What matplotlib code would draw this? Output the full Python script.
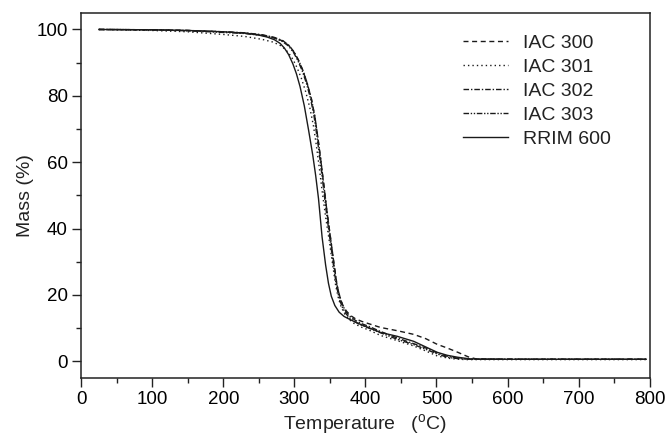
import matplotlib
matplotlib.use("Agg")
import matplotlib.pyplot as plt
from matplotlib.ticker import MultipleLocator

plt.rcParams["font.family"] = ["Liberation Sans", "DejaVu Sans"]
plt.rcParams["mathtext.fontset"] = "custom"
plt.rcParams["mathtext.rm"] = "Liberation Sans"

# Curvas TGA (temperatura en C, masa en %)
t_300 = [25, 100, 150, 200, 230, 255, 272, 284, 293, 300, 306, 312, 318, 324, 329, 333, 337, 341,
         346, 351, 356, 360, 364, 368, 373, 379, 386, 395, 405, 421, 445, 468, 485, 501, 515, 530,
         545, 556, 600, 700, 795]
m_300 = [100, 99.9, 99.7, 99.3, 98.9, 98.3, 97.5, 96.5, 95.0, 93.0, 90.6, 87.6, 83.8, 79.0, 73.5,
         67.5, 61, 54, 45, 37, 29, 23.0, 19.5, 17.0, 15.2, 13.8, 12.8, 12.0, 11.3, 10.2, 9.2, 8.1,
         6.8, 5.1, 4.0, 2.7, 1.3, 0.7, 0.6, 0.6, 0.6]

t_301 = [25, 100, 150, 200, 230, 255, 270, 282, 291, 298, 304, 310, 316, 322, 327, 331, 335, 339,
         344, 349, 354, 358, 362, 366, 371, 377, 384, 393, 405, 421, 445, 468, 485, 501, 520, 540,
         600, 700, 795]
m_301 = [100, 99.7, 99.3, 98.5, 97.9, 97.0, 96.2, 95.0, 93.2, 91.0, 88.4, 85.2, 81.2, 76.2, 70.8,
         65.0, 58.5, 51.5, 43.5, 36.5, 29, 23.0, 19.0, 16.3, 14.2, 12.6, 11.4, 10.4, 9.4, 7.8,
         6.2, 4.6, 3.1, 1.6, 0.8, 0.5, 0.5, 0.5, 0.5]

t_302 = [25, 100, 150, 200, 230, 255, 272, 284, 293, 300, 306, 312, 318, 324, 329, 333, 337, 341,
         346, 351, 356, 360, 364, 368, 373, 379, 386, 395, 405, 421, 445, 468, 485, 501, 515, 530,
         548, 600, 700, 795]
m_302 = [100, 99.9, 99.7, 99.3, 99.0, 98.4, 97.6, 96.6, 95.1, 93.1, 90.7, 87.7, 83.9, 79.1, 73.6,
         67.6, 61, 54, 45, 37, 29, 23.0, 19.3, 16.8, 14.8, 13.4, 12.3, 11.3, 10.5, 9.0, 7.0, 5.3,
         4.0, 2.5, 1.5, 0.9, 0.6, 0.6, 0.6, 0.6]

t_303 = [25, 100, 150, 200, 230, 255, 272, 283, 292, 299, 305, 311, 317, 323, 328, 332, 336, 340,
         345, 350, 355, 359, 363, 367, 372, 378, 385, 394, 405, 421, 445, 468, 485, 501, 515, 530,
         548, 600, 700, 795]
m_303 = [100, 99.9, 99.6, 99.1, 98.8, 98.2, 97.4, 96.4, 95.0, 93.0, 90.6, 87.6, 83.8, 79.0, 73.5,
         67.5, 61, 54, 45, 37, 29, 23.0, 19.0, 16.5, 14.5, 13.0, 11.9, 10.9, 10.0, 8.6, 6.6, 5.0,
         3.6, 2.2, 1.2, 0.8, 0.6, 0.6, 0.6, 0.6]

t_rrim = [25, 100, 150, 200, 230, 250, 262, 272, 280, 286, 292, 298, 303, 308, 314, 320, 326,
          330, 334, 339, 344, 348, 352, 357, 363, 370, 379, 390, 400, 421, 445, 468, 485, 501, 515,
          530, 548, 600, 700, 795]
m_rrim = [100, 99.9, 99.7, 99.3, 98.9, 98.3, 97.7, 96.9, 95.8, 94.4, 92.4, 89.6, 86.6, 82.8, 77.0,
          69.7, 62, 56, 49, 37.5, 29, 23.5, 19.6, 16.8, 14.8, 13.5, 12.5, 11.4, 10.5, 8.7, 7.5,
          6.0, 4.3, 2.7, 1.8, 1.2, 0.7, 0.6, 0.6, 0.6]

fig = plt.figure(figsize=(6.65, 4.44), dpi=100)
ax = fig.add_axes([0.122, 0.149, 0.855, 0.822])

c = "#1a1a1a"
ax.plot(t_300, m_300, color=c, lw=1.0, dashes=(3.6, 2.6), label="IAC 300")
ax.plot(t_301, m_301, color=c, lw=1.0, dashes=(1.0, 2.2), label="IAC 301")
ax.plot(t_302, m_302, color=c, lw=1.0, dashes=(4.0, 1.4, 1.0, 1.4), label="IAC 302")
ax.plot(t_303, m_303, color=c, lw=1.0, dashes=(4.0, 1.2, 1.0, 1.2, 1.0, 1.2), label="IAC 303")
ax.plot(t_rrim, m_rrim, color=c, lw=1.0, label="RRIM 600")

ax.set_xlim(0, 800)
ax.set_ylim(-5, 105)
ax.xaxis.set_major_locator(MultipleLocator(100))
ax.xaxis.set_minor_locator(MultipleLocator(50))
ax.yaxis.set_major_locator(MultipleLocator(20))
ax.yaxis.set_minor_locator(MultipleLocator(10))
ax.tick_params(which="major", direction="out", length=6.5, width=1, labelsize=13.5, pad=3, color="#222222")
ax.tick_params(which="minor", direction="out", length=3.5, width=1, color="#222222")
for s in ax.spines.values():
    s.set_linewidth(1.1)
    s.set_color("#222222")

ax.set_xlabel("Temperature   ($\\mathregular{^o}$C)", fontsize=14, labelpad=3, color="#222222")
ax.set_ylabel("Mass (%)", fontsize=14, labelpad=2, color="#222222")

leg = ax.legend(loc="upper right", frameon=False, fontsize=14, handlelength=2.3,
                handletextpad=0.75, labelspacing=0.33, bbox_to_anchor=(0.962, 0.99))
for txt in leg.get_texts():
    txt.set_color("#222222")

fig.savefig("out.png", dpi=100)
